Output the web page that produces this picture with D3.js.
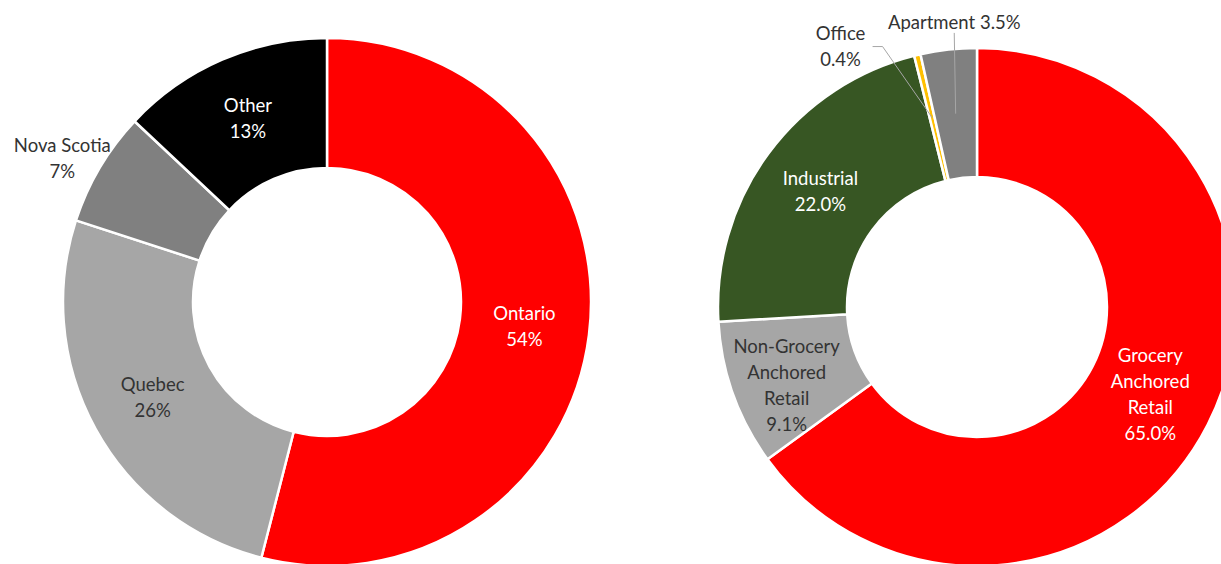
<!DOCTYPE html>
<html>
<head>
<meta charset="utf-8">
<script src="https://cdn.jsdelivr.net/npm/d3@7"></script>
<style>
  html, body { margin: 0; padding: 0; background: #fff; }
  svg { display: block; font-family: Lato, "Open Sans", sans-serif; }
</style>
</head>
<body>
<div id="chart"></div>
<script>
// left donut: geography
const regionNames = ["Ontario", "Quebec", "Nova Scotia", "Other"];
const regionValues = [54, 26, 7, 13];
const regionLabels = ["54%", "26%", "7%", "13%"];
const regionColors = ["#ff0000", "#a6a6a6", "#808080", "#000000"];

// right donut: asset type
const assetNames = [["Grocery", "Anchored", "Retail"], ["Non-Grocery", "Anchored", "Retail"], ["Industrial"], ["Office"], ["Apartment"]];
const assetValues = [65.0, 9.1, 22.0, 0.4, 3.5];
const assetLabels = ["65.0%", "9.1%", "22.0%", "0.4%", "3.5%"];
const assetColors = ["#ff0000", "#a6a6a6", "#375623", "#ffc000", "#808080"];

(function () {
  const width = 1221, height = 564;
  const lineH = 26;

  const svg = d3.select("#chart").append("svg")
    .attr("width", width)
    .attr("height", height)
    .attr("viewBox", `0 0 ${width} ${height}`);

  const pie = d3.pie().sort(null).value(d => d.value);

  function polar(angle, r) {
    return [r * Math.sin(angle), -r * Math.cos(angle)];
  }

  function drawDonut(opt) {
    const data = opt.values.map((v, i) => ({
      value: v, name: opt.names[i], pct: opt.labels[i], color: opt.colors[i], place: opt.place[i]
    }));
    const arcs = pie(data);
    const arc = d3.arc().innerRadius(opt.inner).outerRadius(opt.outer);
    const mid = (opt.inner + opt.outer) / 2;

    const g = svg.append("g").attr("transform", `translate(${opt.cx},${opt.cy})`);

    g.selectAll("path")
      .data(arcs)
      .join("path")
      .attr("d", arc)
      .attr("fill", d => d.data.color)
      .attr("stroke", "#fff")
      .attr("stroke-width", 2.5)
      .attr("stroke-linejoin", "round");

    arcs.forEach(d => {
      const a = (d.startAngle + d.endAngle) / 2;
      const p = d.data.place;
      const lines = [].concat(d.data.name, d.data.pct);
      let pos;
      if (p.leader) {
        const la = a + p.dAngle;
        pos = polar(la, p.r);
        const end = polar(a, mid);
        const pts = p.inline ? [[pos[0], pos[1] + 10], end]
          : [[pos[0] + 32, pos[1]], [pos[0] + 42, pos[1]], end];
        g.append("path")
          .attr("d", d3.line()(pts))
          .attr("fill", "none")
          .attr("stroke", "#a6a6a6")
          .attr("stroke-width", 1);
      } else {
        pos = polar(a + (p.dAngle || 0), p.r || mid);
      }
      const t = g.append("text")
        .attr("text-anchor", "middle")
        .attr("font-size", 18.5)
        .attr("fill", p.light ? "#ffffff" : "#333333");
      if (p.inline) {
        t.append("tspan").attr("x", pos[0]).attr("y", pos[1] + 6).text(lines.join(" "));
      } else {
        const y0 = pos[1] - (lines.length - 1) * lineH / 2 + 6;
        lines.forEach((s, i) => {
          t.append("tspan").attr("x", pos[0]).attr("y", y0 + i * lineH).text(s);
        });
      }
    });
  }

  drawDonut({
    cx: 327, cy: 302, inner: 134, outer: 264,
    names: regionNames, values: regionValues, labels: regionLabels, colors: regionColors,
    place: [{ light: true }, {}, { r: 301, dAngle: -0.038 }, { light: true }]
  });

  drawDonut({
    cx: 977, cy: 307, inner: 130, outer: 259,
    names: assetNames, values: assetValues, labels: assetLabels, colors: assetColors,
    place: [{ light: true, dAngle: 0.0 }, { r: 206, dAngle: -0.05 }, { light: true }, { leader: true, r: 294, dAngle: -0.25 }, { leader: true, inline: true, r: 285, dAngle: 0.03 }]
  });
})();
</script>
</body>
</html>
